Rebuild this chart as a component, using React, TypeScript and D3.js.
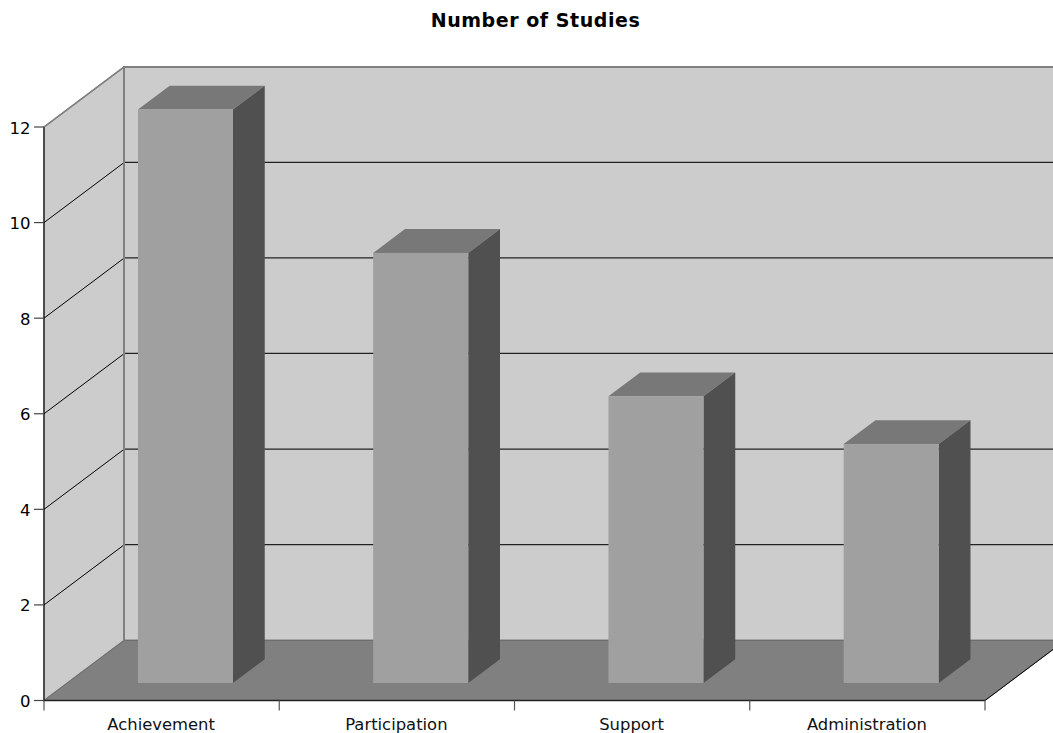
import React from 'react'
import * as d3 from 'd3'

const categories = ['Achievement', 'Participation', 'Support', 'Administration']
const values = [12, 9, 6, 5]
const yTicks = [0, 2, 4, 6, 8, 10, 12]

const chartTitle = 'Number of Studies'
const font = 'Verdana, "DejaVu Sans", sans-serif'

const left = 44
const right = 985
const y0 = 700.5
const y12 = 127
const depthX = 80
const depthY = 60

const App = () => {
  const x = d3.scaleBand().domain(categories).range([left, right]).paddingInner(0.596).paddingOuter(0.298)
  const xEdge = d3.scaleLinear().domain([0, categories.length]).range([left, right])
  const y = d3.scaleLinear().domain([0, 12]).range([y0, y12])
  // depth goes 0 at the front edge of the floor and 1 at the back wall
  const dx = d3.scaleLinear().domain([0, 1]).range([0, depthX])
  const dy = d3.scaleLinear().domain([0, 1]).range([0, -depthY])
  const poly = d3.line<[number, number]>()
  const near = 0.298
  const far = 0.695

  const top = y(12)
  const bottom = y(0)
  const bx = dx(1)
  const by = dy(1)

  return (
    <svg width={1053} height={733} style={{ position: 'absolute', left: 0, top: 0 }} fontFamily={font} fontSize={16.4}>
      <text x={535.5} y={26.5} textAnchor="middle" fontWeight="bold" fontSize={19} letterSpacing={0.55} fill="#000">{chartTitle}</text>

      {/* back wall, side wall and floor */}
      <path d={poly([[left + bx, top + by], [right + bx, top + by], [right + bx, bottom + by], [left + bx, bottom + by]]) + 'Z'} fill="#cccccc" stroke="#808080" strokeWidth={2} />
      <path d={poly([[left, top], [left + bx, top + by], [left + bx, bottom + by], [left, bottom]]) + 'Z'} fill="#cccccc" stroke="#808080" strokeWidth={1.5} />
      <path d={poly([[left, bottom], [left + bx, bottom + by], [right + bx, bottom + by], [right, bottom]]) + 'Z'} fill="#808080" stroke="#6e6e6e" strokeWidth={1} />

      {/* gridlines */}
      {yTicks.filter((t) => t > 0 && t < 12).map((t) => (
        <g key={t} fill="none">
          <line x1={left} y1={y(t)} x2={left + bx} y2={y(t) + by} stroke="#000" />
          <line x1={left + bx} y1={y(t) + by - 0.3} x2={right + bx} y2={y(t) + by - 0.3} stroke="#222" strokeWidth={1.3} />
        </g>
      ))}
      <line x1={left + bx} y1={top + by} x2={left + bx} y2={bottom + by} stroke="#808080" strokeWidth={2} />

      {/* bars */}
      {categories.map((c, i) => {
        const x1 = x(c)! + dx(near)
        const x2 = x1 + x.bandwidth()
        const base = bottom + dy(near) + 0.4
        const yt = y(values[i]) + dy(near) + 0.4
        const ox = dx(far) - dx(near)
        const oy = dy(far) - dy(near)
        return (
          <g key={c}>
            <path d={poly([[x1, yt], [x1 + ox, yt + oy], [x2 + ox, yt + oy], [x2, yt]]) + 'Z'} fill="#787878" />
            <path d={poly([[x2, yt], [x2 + ox, yt + oy], [x2 + ox, base + oy], [x2, base]]) + 'Z'} fill="#505050" />
            <rect x={x1} y={yt} width={x.bandwidth()} height={base - yt} fill="#a0a0a0" />
          </g>
        )
      })}

      {/* axes */}
      <line x1={left} y1={top} x2={left} y2={bottom} stroke="#000" />
      <line x1={left} y1={bottom} x2={right} y2={bottom} stroke="#222" strokeWidth={1.5} />
      <line x1={right} y1={bottom} x2={right + bx} y2={bottom + by} stroke="#000" />
      <line x1={left} y1={top} x2={left + bx} y2={top + by} stroke="#808080" strokeWidth={1.5} />
      {yTicks.map((t) => (
        <g key={t}>
          <line x1={left - 10} y1={y(t)} x2={left} y2={y(t)} stroke="#444" strokeWidth={1.2} />
          <text x={left - 13.5} y={y(t) + 6.5} textAnchor="end" fontSize={16.5} fill="#000">{t}</text>
        </g>
      ))}
      {d3.range(categories.length + 1).map((i) => (
        <line key={i} x1={xEdge(i)} y1={bottom} x2={xEdge(i)} y2={bottom + 10} stroke="#555" strokeWidth={1.2} />
      ))}
      {categories.map((c, i) => (
        <text key={c} x={(xEdge(i) + xEdge(i + 1)) / 2 - 0.5} y={730} textAnchor="middle" fill="#111">{c}</text>
      ))}
    </svg>
  )
}

export default App
